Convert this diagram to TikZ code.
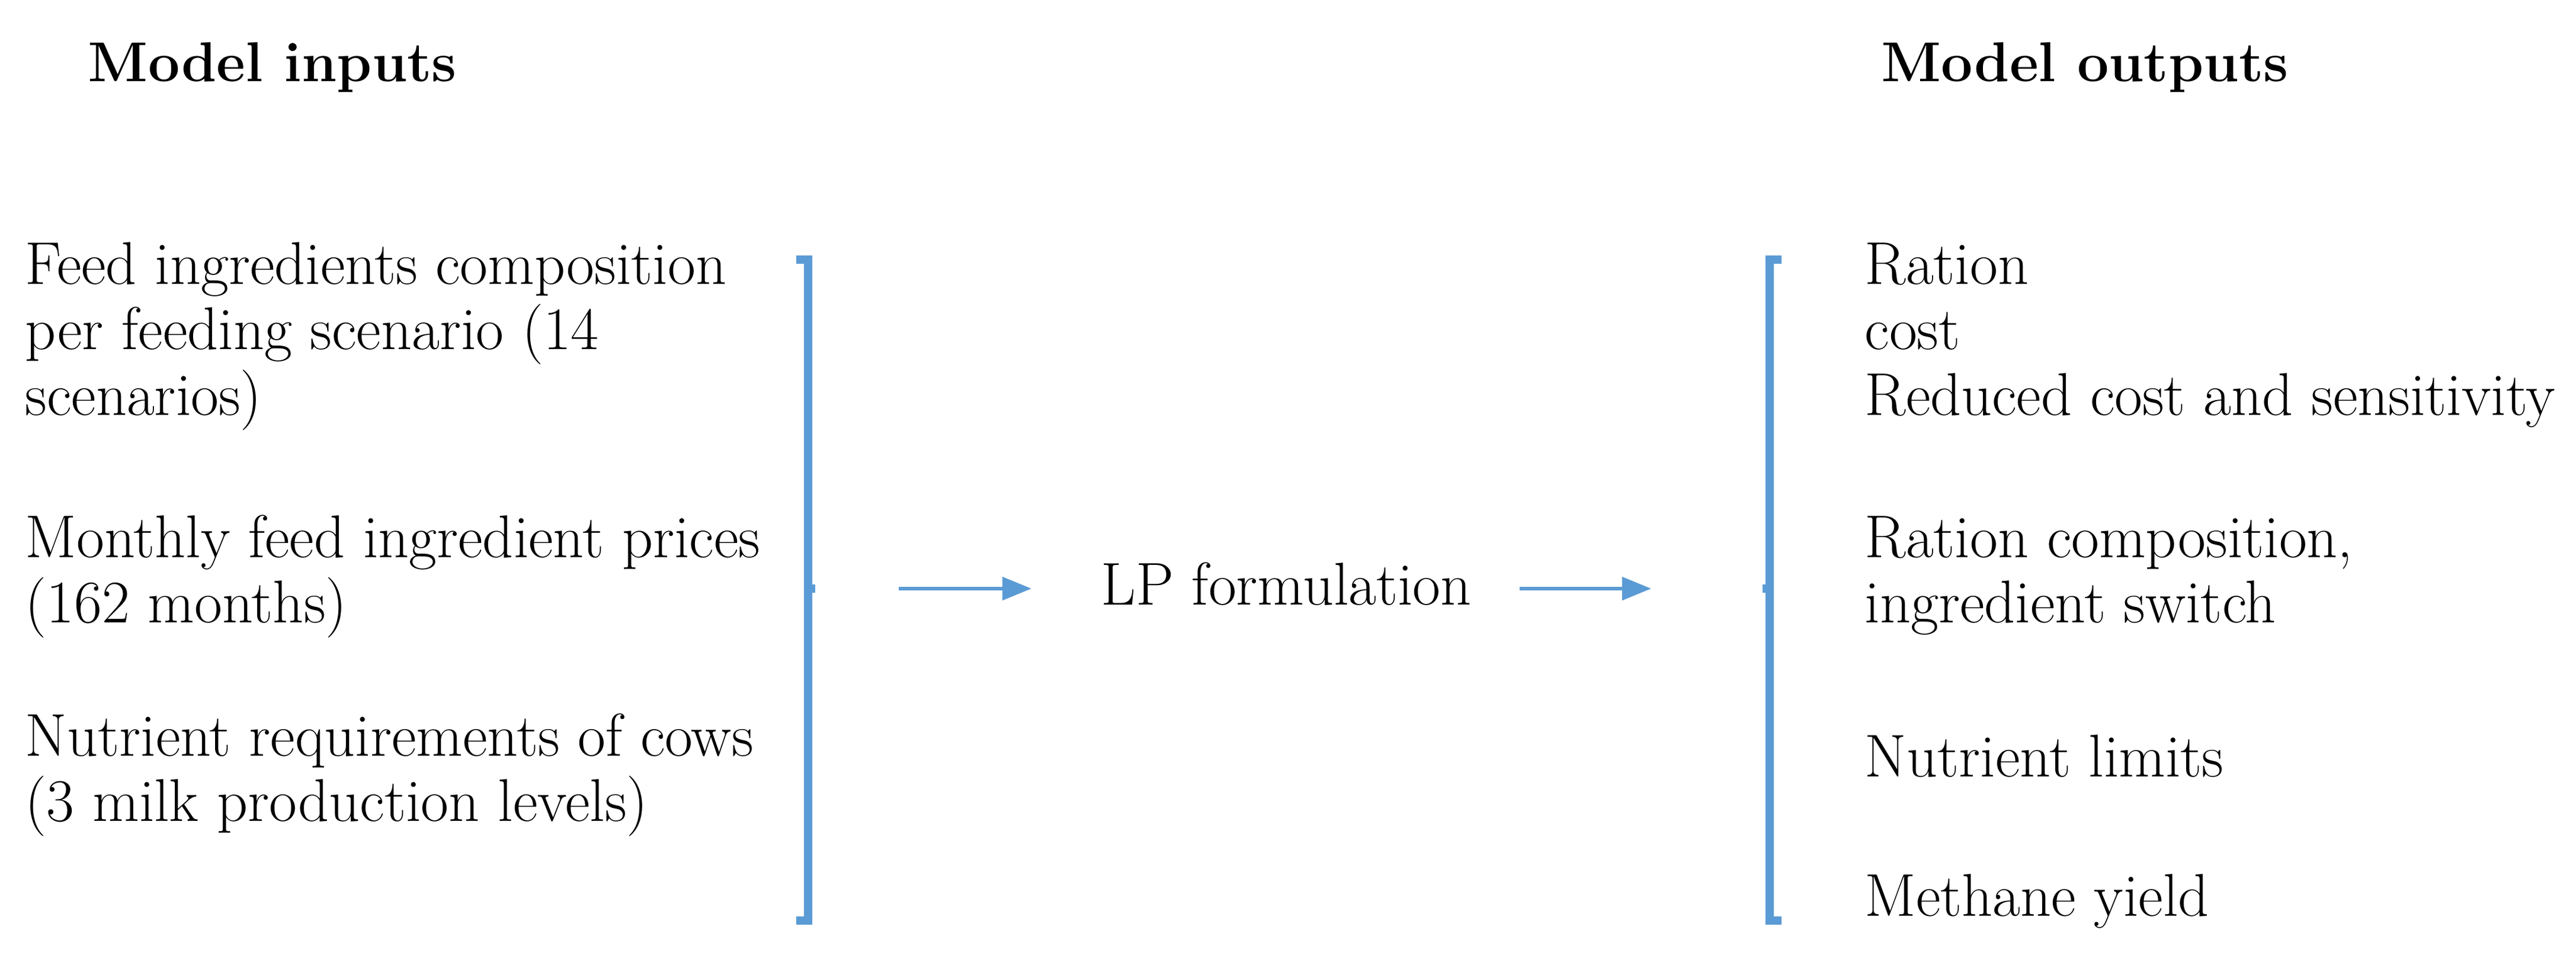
\documentclass[tikz,border=0pt]{standalone}
\usetikzlibrary{arrows.meta}
\definecolor{brblue}{RGB}{91,155,213}
\begin{document}
\begin{tikzpicture}[x=1cm,y=1cm,
  txt/.style={anchor=base west,inner sep=0pt,font=\fontsize{29}{34}\selectfont},
  ttl/.style={anchor=base,inner sep=0pt,font=\fontsize{27}{32}\selectfont\bfseries},
  brk/.style={draw=brblue,line width=4pt},
  arr/.style={draw=brblue,line width=1.6pt,-{Triangle[length=14pt,width=11pt]}}]
\useasboundingbox (0,0) rectangle (43.48,16.27);
\def\Y#1{16.27-#1/100}
\node[ttl] (ti) at (4.60,{\Y{138}}) {Model inputs};
\node[ttl] (to) at (35.19,{\Y{138}}) {Model outputs};
% left texts (baselines)
\node[txt] (l1) at (0.42,{\Y{480}}) {Feed ingredients composition};
\node[txt] (l2) at (0.42,{\Y{590}}) {per feeding scenario (14};
\node[txt] (l3) at (0.42,{\Y{700}}) {scenarios)};
\node[txt] (l4) at (0.42,{\Y{940}}) {Monthly feed ingredient prices};
\node[txt] (l5) at (0.42,{\Y{1050}}) {(162 months)};
\node[txt] (l6) at (0.42,{\Y{1275}}) {Nutrient requirements of cows};
\node[txt] (l7) at (0.42,{\Y{1385}}) {(3 milk production levels)};
% right texts
\node[txt] (r1) at (31.47,{\Y{480}}) {Ration};
\node[txt] (r2) at (31.47,{\Y{590}}) {cost};
\node[txt] (r3) at (31.47,{\Y{700}}) {Reduced cost and sensitivity};
\node[txt] (r4) at (31.47,{\Y{940}}) {Ration composition,};
\node[txt] (r5) at (31.47,{\Y{1050}}) {ingredient switch};
\node[txt] (r6) at (31.47,{\Y{1310}}) {Nutrient limits};
\node[txt] (r7) at (31.47,{\Y{1545}}) {Methane yield};
% center
\node[inner sep=0pt,font=\fontsize{29}{34}\selectfont] (lp) at (21.71,{\Y{985}}) {LP formulation};
% brackets
\coordinate (lb) at (13.64,{\Y{993}});
\coordinate (rb) at (29.87,{\Y{993}});
\draw[brk] (13.44,{\Y{438}}) -- (13.64,{\Y{438}}) -- (13.64,{\Y{1553}}) -- (13.44,{\Y{1553}});
\draw[brk] (lb) -- ++(0.12,0);
\draw[brk] (30.07,{\Y{438}}) -- (29.87,{\Y{438}}) -- (29.87,{\Y{1553}}) -- (30.07,{\Y{1553}});
\draw[brk] (rb) -- ++(-0.12,0);
\coordinate (a1s) at (15.17,{\Y{993}});
\coordinate (a1e) at (17.41,{\Y{993}});
\coordinate (a2s) at (25.65,{\Y{993}});
\coordinate (a2e) at (27.87,{\Y{993}});
\draw[arr] (a1s) -- (a1e);
\draw[arr] (a2s) -- (a2e);
\end{tikzpicture}
\end{document}
